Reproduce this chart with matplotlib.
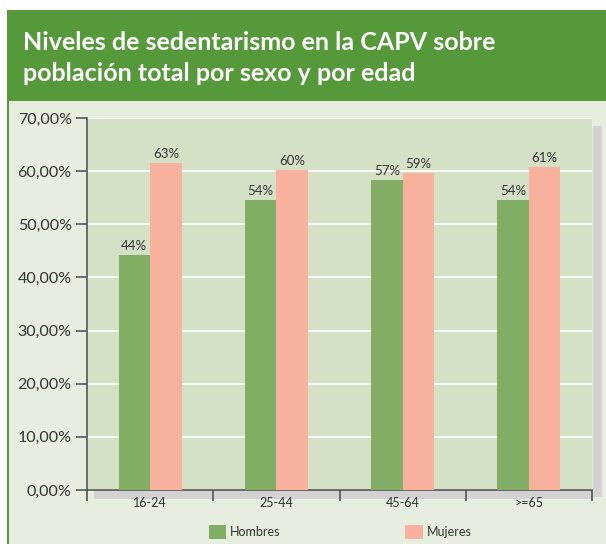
import matplotlib.pyplot as plt
from matplotlib.patches import Rectangle, Patch

# Datos
categorias = ["16-24", "25-44", "45-64", ">=65"]
hombres = [0.442, 0.546, 0.583, 0.546]
mujeres = [0.615, 0.602, 0.597, 0.608]
etiquetas_h = ["44%", "54%", "57%", "54%"]
etiquetas_m = ["63%", "60%", "59%", "61%"]

verde_cab = "#56993A"
fondo_panel = "#E6EEDF"
fondo_plot = "#D4E1C7"
color_h = "#82AD64"
color_m = "#F8B19C"
gris = "#D2D2D2"
texto = "#333333"

plt.rcParams["font.family"] = ["Lato", "DejaVu Sans"]

fig = plt.figure(figsize=(6.06, 5.44), dpi=100)

# Cabecera y panel
fig.patches.append(Rectangle((7 / 606, 0), 1, 1 - 101 / 544, transform=fig.transFigure,
                             facecolor=fondo_panel, edgecolor="none", zorder=-5))
fig.patches.append(Rectangle((7 / 606, 1 - 101 / 544), 1, 91 / 544, transform=fig.transFigure,
                             facecolor=verde_cab, edgecolor="none", zorder=-5))
fig.patches.append(Rectangle((7 / 606, 0), 2 / 606, 1 - 10 / 544, transform=fig.transFigure,
                             facecolor=verde_cab, edgecolor="none", zorder=-5))
fig.text(23 / 606, 1 - 58 / 544, "Niveles de sedentarismo en la CAPV sobre\npoblación total por sexo y por edad",
         color="white", fontsize=18, fontweight="bold", va="center", ha="left", linespacing=1.38)

ax = fig.add_axes([87 / 606, 1 - 490 / 544, 505 / 606, 372 / 544])
ax.set_zorder(2)
ax.set_facecolor(fondo_plot)

x = range(len(categorias))
ancho = 0.25
xh = [i - ancho / 2 for i in x]
xm = [i + ancho / 2 for i in x]
ax.bar(xh, hombres, width=ancho, color=color_h, zorder=3)
ax.bar(xm, mujeres, width=ancho, color=color_m, zorder=3)

for xi, v, t in zip(xh, hombres, etiquetas_h):
    ax.text(xi, v + 0.006, t, ha="center", va="bottom", fontsize=9.5, color=texto)
for xi, v, t in zip(xm, mujeres, etiquetas_m):
    ax.text(xi, v + 0.006, t, ha="center", va="bottom", fontsize=9.5, color=texto)

ax.set_xlim(-0.5, 3.5)
ax.set_ylim(0, 0.7)
ax.set_yticks([i / 10 for i in range(8)])
ax.set_yticklabels([f"{i * 10},00%" for i in range(8)], fontsize=11.5, color=texto)
ax.yaxis.grid(True, color="white", linewidth=1.2, zorder=1)
ax.set_axisbelow(True)

ax.set_xticks([-0.5, 0.5, 1.5, 2.5, 3.5])
ax.set_xticklabels([])
ax.set_xticks(list(x), minor=True)
ax.set_xticklabels(categorias, minor=True, fontsize=9, color=texto)
ax.tick_params(axis="x", which="major", length=8, width=1.2, color="#555555", direction="out")
ax.tick_params(axis="x", which="minor", length=0, pad=5)
ax.tick_params(axis="y", length=8, width=1.2, color="#555555", pad=3)

for s in ["top", "right"]:
    ax.spines[s].set_visible(False)
ax.spines["left"].set_color("#555555")
ax.spines["left"].set_linewidth(1.2)
ax.spines["bottom"].set_color("#555555")
ax.spines["bottom"].set_linewidth(1.2)

# Sombras grises (efecto 3D)
ax.add_patch(Rectangle((1.002, -0.019), 0.018, 0.997, transform=ax.transAxes,
                       facecolor=gris, edgecolor="none", clip_on=False, zorder=0))
ax.add_patch(Rectangle((0.014, -0.024), 0.988, 0.024, transform=ax.transAxes,
                       facecolor=gris, edgecolor="none", clip_on=False, zorder=0))

handles = [Patch(facecolor=color_h, label="Hombres"), Patch(facecolor=color_m, label="Mujeres")]
fig.legend(handles=handles, loc="center", bbox_to_anchor=(340 / 606, 1 - 532 / 544), ncol=2,
           frameon=False, fontsize=9, handlelength=1.4, handleheight=1.4, handletextpad=0.3,
           columnspacing=10.0, labelcolor=texto)

fig.savefig("out.png", dpi=100, facecolor="white")
